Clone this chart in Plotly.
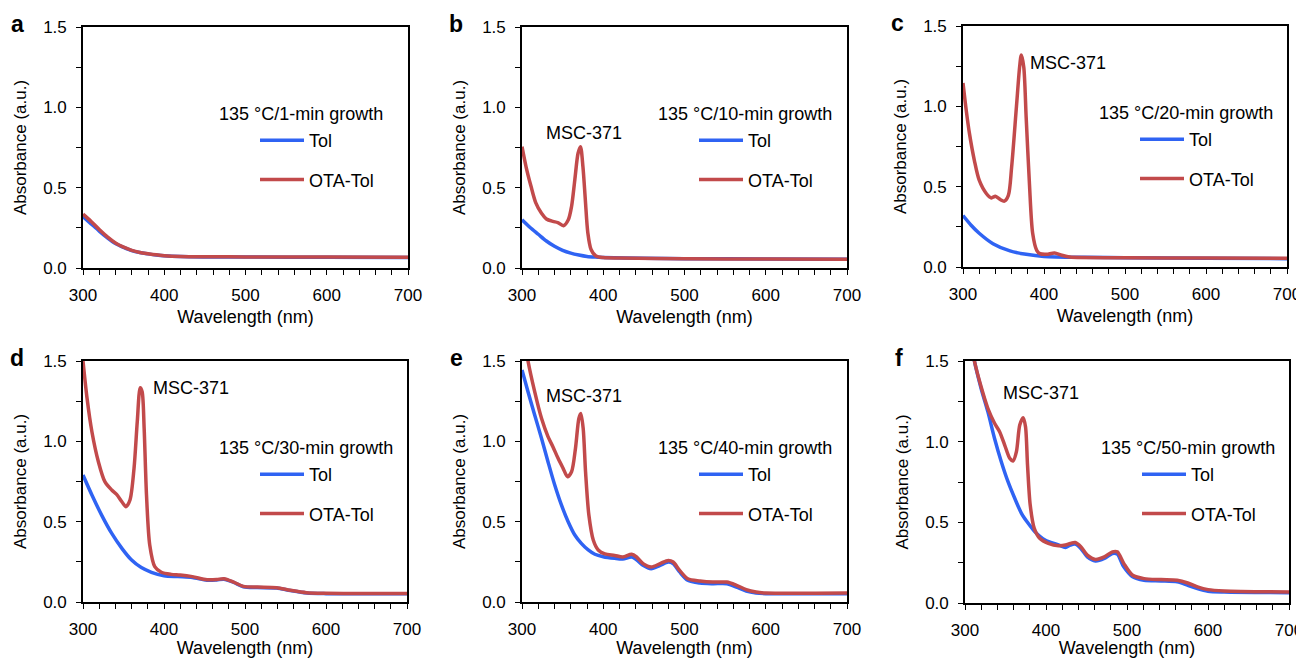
import plotly.graph_objects as go

# ---------------- data ----------------
panel_letters = ["a", "b", "c", "d", "e", "f"]
growth_labels = ["135 °C/1-min growth", "135 °C/10-min growth", "135 °C/20-min growth",
                 "135 °C/30-min growth", "135 °C/40-min growth", "135 °C/50-min growth"]
series_names = ["Tol", "OTA-Tol"]
peak_label = "MSC-371"

a_tol_wl = [300, 310, 320, 330, 340, 350, 360, 370, 380, 390, 400, 420, 450, 500, 600, 700]
a_tol = [0.32, 0.275, 0.23, 0.188, 0.152, 0.128, 0.108, 0.096, 0.088, 0.081, 0.076, 0.071, 0.069, 0.068, 0.067, 0.066]
a_ota_wl = [300, 310, 320, 330, 340, 350, 360, 370, 380, 390, 400, 420, 450, 500, 600, 700]
a_ota = [0.335, 0.29, 0.24, 0.194, 0.156, 0.13, 0.11, 0.097, 0.089, 0.082, 0.077, 0.072, 0.07, 0.069, 0.068, 0.067]

b_tol_wl = [300, 310, 320, 330, 340, 350, 360, 370, 380, 390, 400, 450, 500, 600, 700]
b_tol = [0.30, 0.252, 0.21, 0.168, 0.135, 0.11, 0.093, 0.081, 0.072, 0.068, 0.066, 0.06, 0.058, 0.056, 0.055]
b_ota_wl = [300, 305, 311, 317, 324, 330, 338, 344, 351, 357, 361, 365, 369, 372, 375, 378, 381,
            385, 391, 400, 420, 500, 600, 700]
b_ota = [0.755, 0.63, 0.51, 0.405, 0.34, 0.305, 0.29, 0.283, 0.263, 0.30, 0.383, 0.548, 0.714, 0.755,
         0.63, 0.42, 0.22, 0.115, 0.075, 0.065, 0.062, 0.058, 0.056, 0.055]

c_tol_wl = [300, 310, 320, 337, 358, 378, 400, 450, 500, 600, 700]
c_tol = [0.32, 0.26, 0.21, 0.145, 0.10, 0.079, 0.066, 0.06, 0.058, 0.055, 0.052]
c_ota_wl = [300, 304, 308, 314, 320, 329, 335, 340, 346, 351, 356, 360, 366, 370, 372, 375, 378, 382,
            386, 391, 395, 403, 413, 422, 432, 500, 600, 700]
c_ota = [1.145, 0.975, 0.83, 0.664, 0.54, 0.456, 0.43, 0.44, 0.42, 0.41, 0.446, 0.62, 1.0, 1.25, 1.32,
         1.245, 0.93, 0.52, 0.21, 0.104, 0.083, 0.079, 0.087, 0.073, 0.062, 0.058, 0.056, 0.055]

d_tol_wl = [300, 311, 323, 335.5, 348, 360, 372, 384.5, 400, 417, 435, 453, 465, 474, 486, 498, 515,
            539, 556, 576, 600, 700]
d_tol = [0.79, 0.666, 0.541, 0.427, 0.334, 0.261, 0.214, 0.185, 0.164, 0.158, 0.153, 0.135, 0.137,
         0.142, 0.122, 0.095, 0.09, 0.087, 0.071, 0.056, 0.052, 0.052]
d_ota_wl = [300, 305, 311, 319, 327, 335.5, 341.5, 348, 353, 358, 363, 367, 370.6, 373, 375.5, 378.4,
            382.4, 388.6, 396.7, 409, 420, 435, 453, 465, 474, 486, 498, 515, 539, 556, 576, 600, 700]
d_ota = [1.5, 1.268, 1.06, 0.873, 0.749, 0.697, 0.67, 0.624, 0.593, 0.635, 0.832, 1.122, 1.334, 1.309,
         1.081, 0.666, 0.355, 0.22, 0.185, 0.172, 0.168, 0.158, 0.139, 0.14, 0.145, 0.124, 0.0975,
         0.093, 0.089, 0.073, 0.058, 0.054, 0.053]

e_tol_wl = [300, 307.4, 315.6, 324, 332, 340.3, 348.5, 356.8, 365, 373, 381.5, 389.7, 400, 414, 424,
            435, 441, 449, 459, 470, 480, 486, 494, 504, 519, 535, 552, 564, 576, 588, 600, 700]
e_tol = [1.444, 1.309, 1.164, 1.019, 0.873, 0.728, 0.604, 0.50, 0.417, 0.365, 0.324, 0.297, 0.282,
         0.272, 0.268, 0.28, 0.263, 0.228, 0.207, 0.228, 0.249, 0.239, 0.187, 0.135, 0.118, 0.114,
         0.114, 0.093, 0.068, 0.056, 0.052, 0.052]
e_ota_wl = [300, 307.4, 315.6, 324, 332, 338, 344.4, 350.6, 356, 361, 365.8, 370, 372.4, 375.3, 378.2,
            382.3, 387.7, 393.8, 402, 414, 424, 435, 441, 449, 459, 470, 480, 486, 494, 504, 519, 535,
            552, 564, 576, 588, 600, 700]
e_ota = [1.75, 1.5, 1.309, 1.143, 1.029, 0.967, 0.894, 0.832, 0.78, 0.811, 0.956, 1.143, 1.174, 1.081,
         0.811, 0.541, 0.386, 0.324, 0.299, 0.29, 0.28, 0.297, 0.28, 0.239, 0.218, 0.239, 0.259, 0.249,
         0.197, 0.145, 0.131, 0.124, 0.124, 0.104, 0.077, 0.062, 0.056, 0.056]

f_tol_wl = [300, 306, 311.6, 319.9, 328.2, 336.5, 344.8, 353.1, 361.4, 369.7, 378, 386.3, 398.8, 415.4,
            424, 430, 436, 443, 451, 461, 472, 482, 488, 496, 507, 521, 542, 562, 575, 587, 600, 620, 700]
f_tol = [1.85, 1.67, 1.5, 1.33, 1.186, 1.02, 0.876, 0.752, 0.649, 0.556, 0.494, 0.442, 0.39, 0.36,
         0.344, 0.359, 0.365, 0.338, 0.286, 0.261, 0.276, 0.307, 0.303, 0.224, 0.162, 0.141, 0.137,
         0.131, 0.11, 0.089, 0.073, 0.068, 0.064]
f_ota_wl = [300, 306, 311.6, 319.9, 328.2, 336.5, 342.7, 349, 355.2, 359.3, 363.5, 367.6, 371.8, 374.7,
            377.2, 380.5, 385.5, 392.5, 402.9, 415.4, 424, 430, 436, 443, 451, 461, 472, 482, 488, 496,
            507, 521, 542, 562, 575, 587, 600, 620, 700]
f_ota = [1.85, 1.67, 1.5, 1.34, 1.207, 1.114, 1.062, 0.979, 0.897, 0.88, 0.938, 1.103, 1.149, 1.093,
         0.855, 0.607, 0.463, 0.40, 0.37, 0.355, 0.359, 0.369, 0.375, 0.349, 0.297, 0.27, 0.286, 0.317,
         0.317, 0.245, 0.172, 0.151, 0.145, 0.141, 0.124, 0.10, 0.083, 0.075, 0.068]

# MSC-371 label anchors (data coords) per panel; None = no label
peak_label_pos = [None, (376, 0.84, "center"), (380, 1.27, "left"), (384, 1.33, "left"),
                  (327, 1.28, "left"), (344, 1.30, "left")]

x_ticks = [300, 400, 500, 600, 700]
y_ticks = [0.0, 0.5, 1.0, 1.5]

# ---------------- style ----------------
PAGE_OFF = 8             # browser body margin
W, H = 1304 - PAGE_OFF, 658 - PAGE_OFF
FONT = "Liberation Sans, Arial, Helvetica, sans-serif"
BLUE = "#2f63f3"
RED = "#c24a4b"
LW = 3.5

# plot-area boxes in screen pixels: (left, top, right, bottom)
boxes = [(83, 27, 408, 268), (522, 27, 847, 268), (963, 26, 1287, 267),
         (83, 361, 407, 602), (522, 361, 847, 602), (965, 361, 1289, 603)]

panels = [(a_tol_wl, a_tol, a_ota_wl, a_ota), (b_tol_wl, b_tol, b_ota_wl, b_ota),
          (c_tol_wl, c_tol, c_ota_wl, c_ota), (d_tol_wl, d_tol, d_ota_wl, d_ota),
          (e_tol_wl, e_tol, e_ota_wl, e_ota), (f_tol_wl, f_tol, f_ota_wl, f_ota)]

fig = go.Figure()
layout = dict(width=W, height=H, margin=dict(l=0, r=0, t=0, b=0, autoexpand=False),
              paper_bgcolor="white", plot_bgcolor="white",
              font=dict(family=FONT, size=17, color="black"))
annotations = []

def px(x):
    return (x - PAGE_OFF) / W

def py(y):
    return 1 - (y - PAGE_OFF) / H

for i, (twl, tv, owl, ov) in enumerate(panels):
    n = "" if i == 0 else str(i + 1)
    L, T, R, B = boxes[i]
    xa, ya = "x" + n, "y" + n
    leg = "legend" + n
    fig.add_trace(go.Scatter(x=twl, y=tv, mode="lines", name=series_names[0],
                             line=dict(color=BLUE, width=LW, shape="spline", smoothing=0.8),
                             xaxis=xa, yaxis=ya, legend=leg, legendgroup=f"t{i}"))
    fig.add_trace(go.Scatter(x=owl, y=ov, mode="lines", name=series_names[1],
                             line=dict(color=RED, width=LW, shape="spline", smoothing=0.8),
                             xaxis=xa, yaxis=ya, legend=leg, legendgroup=f"o{i}"))
    axcommon = dict(showline=True, linecolor="black", linewidth=1.6, mirror=True,
                    ticks="outside", ticklen=5, tickwidth=1.2, tickcolor="black",
                    showgrid=False, zeroline=False, ticklabelstandoff=6, automargin=False,
                    tickfont=dict(size=17, family=FONT))
    layout["xaxis" + n] = dict(axcommon, domain=[px(L), px(R)], range=[300, 700],
                               anchor=ya, tickvals=x_ticks,
                               minor=dict(dtick=20, ticks="outside", ticklen=5, tickwidth=1.2,
                                          tickcolor="black", tick0=300),
                               title=dict(text="Wavelength (nm)", standoff=6,
                                          font=dict(size=18, family=FONT)))
    layout["yaxis" + n] = dict(axcommon, domain=[py(B), py(T)], range=[0, 1.5],
                               anchor=xa, tickvals=y_ticks, tickformat=".1f",
                               minor=dict(dtick=0.25, ticks="outside", ticklen=5, tickwidth=1.2,
                                          tickcolor="black", tick0=0),
                               title=dict(text="Absorbance (a.u.)", standoff=12,
                                          font=dict(size=17, family=FONT)))
    # legend for this panel
    lx = L + 172
    ly = T + 95
    layout[leg] = dict(x=px(lx), y=py(ly), xanchor="left", yanchor="top",
                       xref="paper", yref="paper", bgcolor="rgba(0,0,0,0)",
                       font=dict(size=18, family=FONT), traceorder="grouped",
                       tracegroupgap=13, itemwidth=44)
    # growth title
    annotations.append(dict(text=growth_labels[i], x=px(L + 134), y=py(T + 87),
                            xref="paper", yref="paper", xanchor="left", yanchor="middle",
                            showarrow=False, font=dict(size=18, family=FONT)))
    # panel letter
    annotations.append(dict(text="<b>" + panel_letters[i] + "</b>", x=px(L - 66), y=py(T - 3),
                            xref="paper", yref="paper", xanchor="center", yanchor="middle",
                            showarrow=False, font=dict(size=23, family=FONT)))
    if peak_label_pos[i] is not None:
        lxv, lyv, anc = peak_label_pos[i]
        annotations.append(dict(text=peak_label, x=lxv, y=lyv, xref=xa, yref=ya,
                                xanchor=anc, yanchor="middle", showarrow=False,
                                font=dict(size=18, family=FONT)))

layout["annotations"] = annotations
layout["showlegend"] = True
fig.update_layout(**layout)
fig.write_html("out.html")
